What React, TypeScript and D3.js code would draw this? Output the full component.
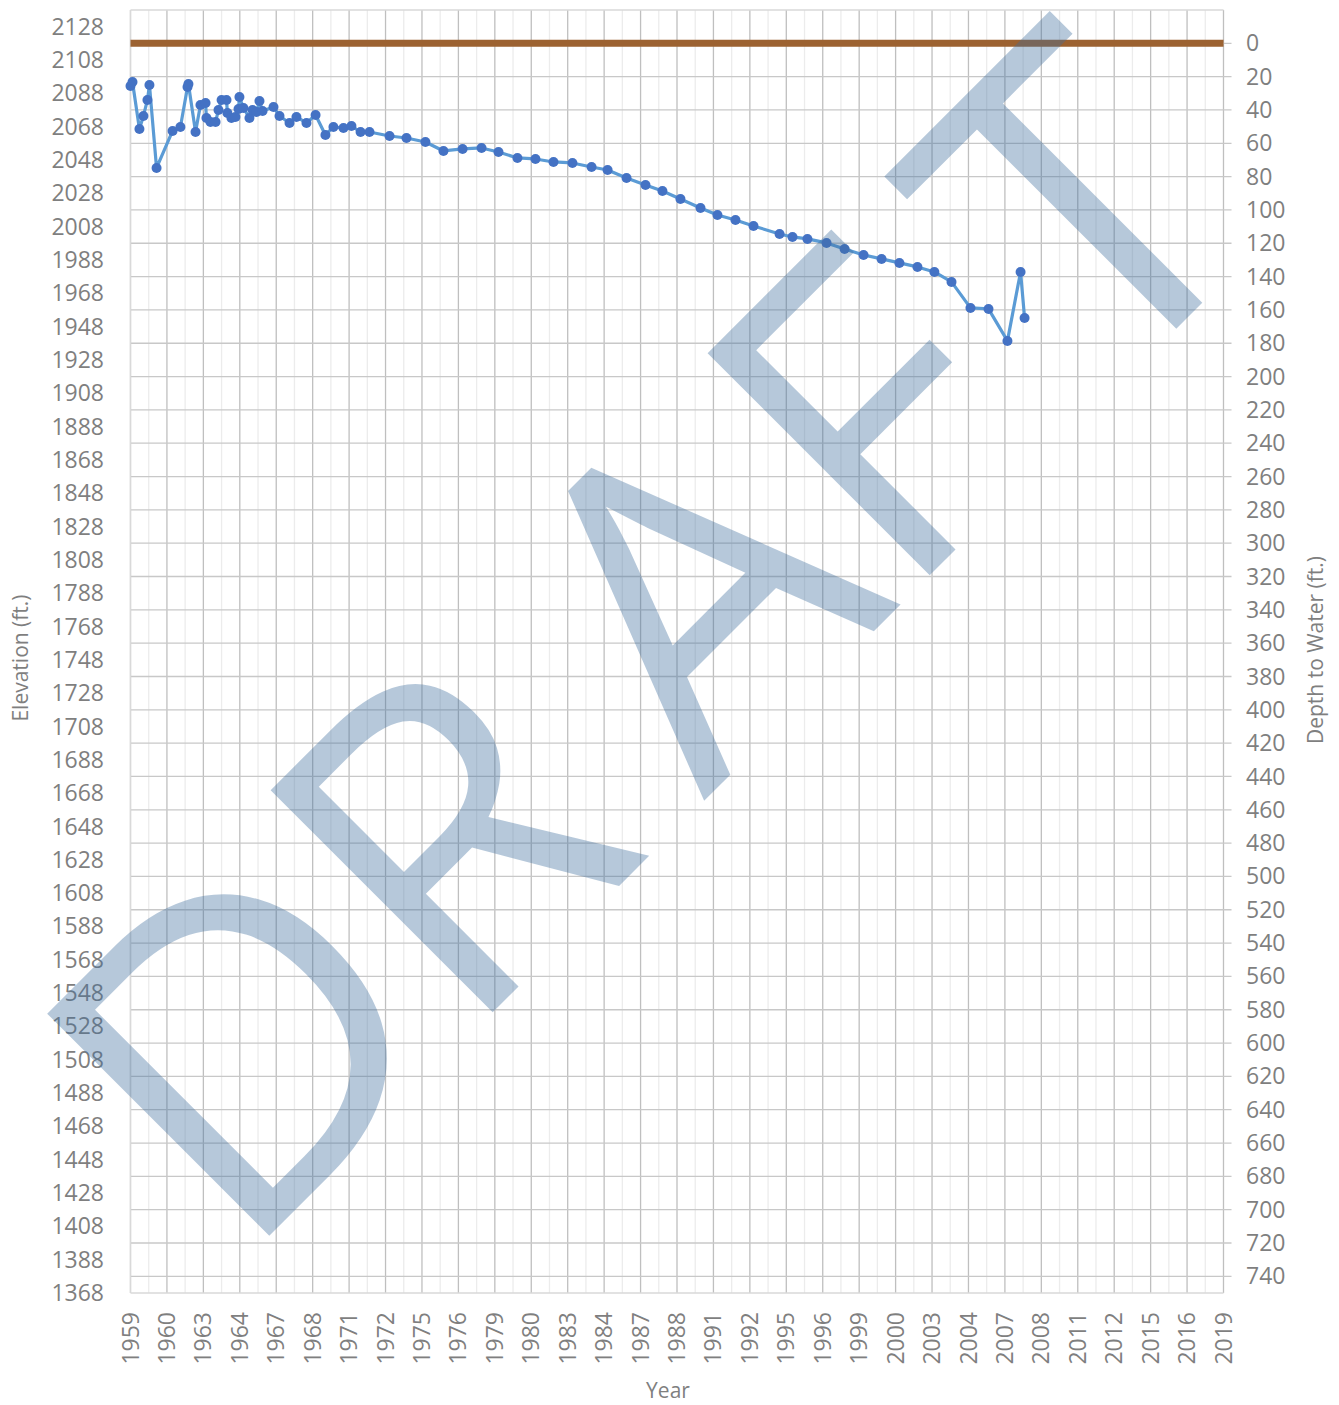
import React from "react";
import * as d3 from "d3";

// x axis labels as they appear on the chart (one every 2 years)
const yearLabels = [
  "1959", "1960", "1963", "1964", "1967", "1968", "1971", "1972", "1975", "1976",
  "1979", "1980", "1983", "1984", "1987", "1988", "1991", "1992", "1995", "1996",
  "1999", "2000", "2003", "2004", "2007", "2008", "2011", "2012", "2015", "2016", "2019",
];

// water level measurements (decimal year, elevation in ft)
const sampleYears = [
  1959.0, 1959.11, 1959.49, 1959.71, 1959.93, 1960.04, 1960.43, 1961.31, 1961.74, 1962.13,
  1962.18, 1962.57, 1962.84, 1963.12, 1963.17, 1963.39, 1963.67, 1963.83, 1964.0, 1964.27,
  1964.32, 1964.54, 1964.76, 1964.93, 1964.98, 1965.2, 1965.53, 1965.7, 1965.92, 1966.08,
  1966.25, 1966.85, 1967.18, 1967.73, 1968.11, 1968.66, 1969.16, 1969.7, 1970.14, 1970.69,
  1971.13, 1971.63, 1972.12, 1973.22, 1974.15, 1975.19, 1976.18, 1977.23, 1978.27, 1979.2,
  1980.24, 1981.23, 1982.22, 1983.26, 1984.31, 1985.19, 1986.23, 1987.27, 1988.2, 1989.19,
  1990.29, 1991.22, 1992.21, 1993.2, 1994.63, 1995.34, 1996.16, 1997.21, 1998.2, 1999.24,
  2000.23, 2001.21, 2002.2, 2003.13, 2004.07, 2005.11, 2006.1, 2007.14, 2007.86, 2008.08,
];
const waterElevation = [
  2092.4, 2094.8, 2066.6, 2074.4, 2084.0, 2093.0, 2043.2, 2065.4, 2067.8, 2091.8,
  2093.6, 2064.8, 2081.0, 2082.2, 2073.2, 2070.8, 2070.8, 2078.0, 2084.0, 2084.0,
  2076.2, 2073.2, 2073.8, 2078.6, 2085.8, 2079.2, 2073.2, 2078.0, 2076.8, 2083.4,
  2077.4, 2079.8, 2074.4, 2070.2, 2073.8, 2070.2, 2075.0, 2063.0, 2067.8, 2067.2,
  2068.4, 2064.8, 2064.8, 2062.4, 2061.2, 2058.8, 2053.4, 2054.6, 2055.2, 2052.8,
  2049.2, 2048.6, 2046.8, 2046.2, 2043.8, 2042.0, 2037.2, 2033.0, 2029.4, 2024.6,
  2019.2, 2015.0, 2012.0, 2008.4, 2003.6, 2001.8, 2000.6, 1998.2, 1994.6, 1991.0,
  1988.6, 1986.2, 1983.8, 1980.8, 1974.8, 1959.2, 1958.6, 1939.4, 1980.8, 1953.2,
];

const groundElevation = 2118;

const elevTicks = d3.range(1368, 2129, 20);
const depthTicks = d3.range(0, 741, 20);

// watermark letters and where each one starts along its slanted baseline
const watermarkLetters = ["D", "R", "A", "F", "T"];
const watermarkOffsets = [-44, 272, 614, 890, 1179];

const W = 1339;
const H = 1405;
const left = 130.5;
const right = 1223.5;
const top = 10;
const bottom = 1293;

const font = "'Open Sans', 'Liberation Sans', sans-serif";
const labelColor = "#7f7f7f";

const App = () => {
  const x = d3.scaleLinear().domain([1959, 2019]).range([left, right]);
  const yElev = d3.scaleLinear().domain([1368, 2138]).range([bottom, top]);
  const yDepth = d3.scaleLinear().domain([-20, 750]).range([top, bottom]);

  const line = d3
    .line<number>()
    .x((_, i) => x(sampleYears[i]))
    .y((d) => yElev(d));

  const gridYears = d3.range(1959, 2020, 1);

  return (
    <div style={{ position: "absolute", left: 0, top: 0 }}>
      <svg width={W} height={H} style={{ display: "block", background: "#fff" }}>
        {/* vertical grid */}
        {gridYears.map((yr, i) => (
          <line
            key={"v" + yr}
            x1={x(yr)}
            x2={x(yr)}
            y1={top}
            y2={bottom}
            stroke={i % 2 === 0 ? "#bfbfbf" : "#ececec"}
            strokeWidth={1.3}
          />
        ))}
        {/* horizontal grid on the depth axis */}
        {depthTicks.map((d) => (
          <line
            key={"h" + d}
            x1={left}
            x2={right + 8}
            y1={yDepth(d)}
            y2={yDepth(d)}
            stroke="#c8c8c8"
            strokeWidth={1.3}
          />
        ))}
        <line x1={left} x2={right} y1={top} y2={top} stroke="#d9d9d9" strokeWidth={1.3} />
        <line x1={left} x2={right} y1={bottom} y2={bottom} stroke="#d9d9d9" strokeWidth={1.3} />
        <line x1={left} x2={left} y1={top} y2={bottom} stroke="#d9d9d9" strokeWidth={1.3} />

        {/* ground surface */}
        <line
          x1={left}
          x2={right}
          y1={yElev(groundElevation)}
          y2={yElev(groundElevation)}
          stroke="#9c6231"
          strokeWidth={7}
        />

        {/* water level series */}
        <path d={line(waterElevation) || ""} fill="none" stroke="#5b9bd5" strokeWidth={3.2} strokeLinejoin="round" />
        {waterElevation.map((e, i) => (
          <circle key={"p" + i} cx={x(sampleYears[i])} cy={yElev(e)} r={5} fill="#4472c4" />
        ))}

        {/* left axis labels */}
        {elevTicks.map((t) => (
          <text
            key={"l" + t}
            x={104}
            y={yElev(t)}
            dy="0.35em"
            textAnchor="end"
            fontFamily={font}
            fontSize={23}
            fill={labelColor}
          >
            {t}
          </text>
        ))}
        {/* right axis labels */}
        {depthTicks.map((t) => (
          <text
            key={"r" + t}
            x={1246}
            y={yDepth(t)}
            dy="0.35em"
            textAnchor="start"
            fontFamily={font}
            fontSize={23}
            fill={labelColor}
          >
            {t}
          </text>
        ))}
        {/* x axis labels */}
        {yearLabels.map((lab, i) => (
          <text
            key={"x" + lab}
            transform={`translate(${x(1959 + i * 2)},${1312}) rotate(-90)`}
            dy="0.35em"
            textAnchor="end"
            fontFamily={font}
            fontSize={23}
            fill={labelColor}
          >
            {lab}
          </text>
        ))}

        {/* axis titles */}
        <text
          transform="translate(21,658) rotate(-90)"
          textAnchor="middle"
          dy="0.35em"
          fontFamily={font}
          fontSize={21}
          fill={labelColor}
        >
          Elevation (ft.)
        </text>
        <text
          transform="translate(1316,650) rotate(-90)"
          textAnchor="middle"
          dy="0.35em"
          fontFamily={font}
          fontSize={21}
          fill={labelColor}
        >
          Depth to Water (ft.)
        </text>
        <text x={668} y={1391} textAnchor="middle" dy="0.35em" fontFamily={font} fontSize={21} fill={labelColor}>
          Year
        </text>

        {/* watermark */}
        <text
          transform="translate(270,1235) rotate(-45)"
          fontFamily={font}
          fontSize={440}
          fill="#3f6f9f"
          fillOpacity={0.38}
        >
          {watermarkLetters.map((ch, i) => (
            <tspan key={ch} x={watermarkOffsets[i]} y={0}>
              {ch}
            </tspan>
          ))}
        </text>
      </svg>
    </div>
  );
};

export default App;
